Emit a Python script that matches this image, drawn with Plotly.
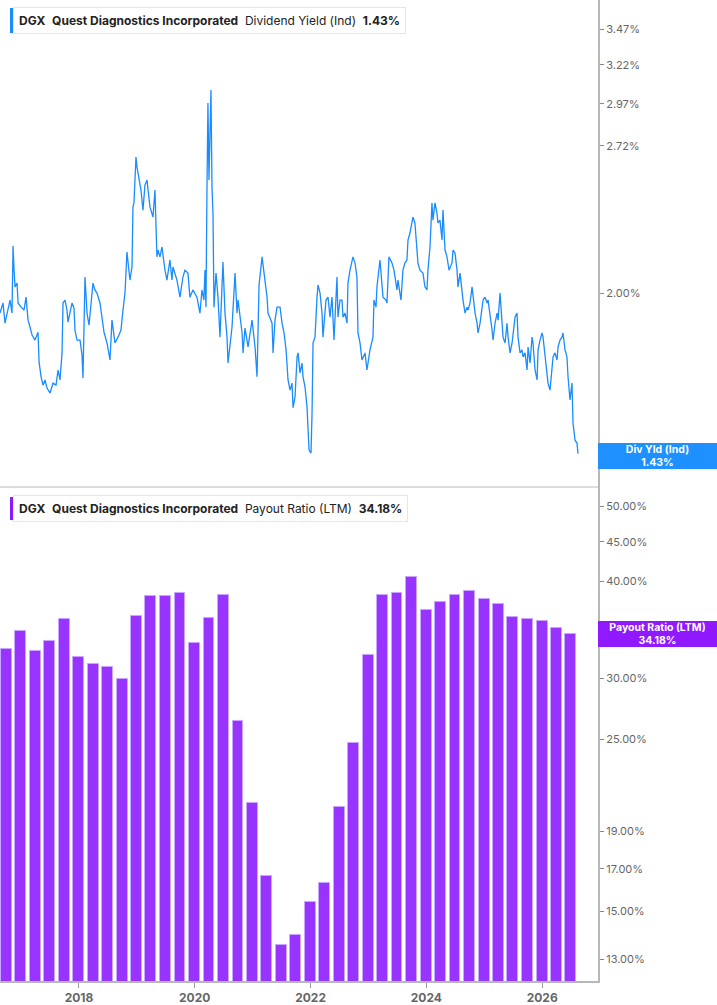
import math
from datetime import datetime
import plotly.graph_objects as go

# ---------------- Data ----------------
# Dividend yield (Ind), % — sampled from the chart; dates as decimal years
yield_t_a = [2016.636, 2016.688, 2016.722, 2016.774, 2016.809, 2016.843, 2016.861, 2016.878, 2016.895, 2016.930,
             2016.947, 2016.999, 2017.050, 2017.085, 2017.120, 2017.154, 2017.189, 2017.240, 2017.275, 2017.292,
             2017.310, 2017.345, 2017.379, 2017.413, 2017.448, 2017.500, 2017.552, 2017.603, 2017.638, 2017.672,
             2017.707, 2017.724, 2017.758, 2017.793, 2017.810, 2017.845, 2017.880, 2017.914, 2017.931, 2017.966,
             2018.018, 2018.052, 2018.069, 2018.104, 2018.139, 2018.173, 2018.207, 2018.242, 2018.276, 2018.311,
             2018.363, 2018.398, 2018.432, 2018.484, 2018.536, 2018.570, 2018.622, 2018.674, 2018.726, 2018.760,
             2018.795, 2018.829, 2018.847, 2018.881, 2018.916, 2018.933, 2018.950, 2018.985, 2019.002, 2019.037,
             2019.071, 2019.106, 2019.140, 2019.175]
yield_v_a = [1.918, 1.959, 1.878, 1.930, 1.971, 1.918, 2.206, 2.098, 2.026, 2.042,
             1.959, 1.942, 1.930, 1.983, 1.890, 1.863, 1.832, 1.813, 1.840, 1.843,
             1.732, 1.679, 1.650, 1.668, 1.640, 1.623, 1.657, 1.650, 1.703, 1.668,
             1.765, 1.959, 1.971, 1.930, 1.882, 1.922, 1.959, 1.938, 1.851, 1.813,
             1.813, 1.758, 1.675, 2.068, 1.918, 1.870, 1.971, 2.042, 2.013, 2.000,
             1.959, 1.902, 1.843, 1.802, 1.739, 1.890, 1.802, 1.824, 1.851, 1.930,
             2.000, 2.179, 2.143, 2.055, 2.112, 2.393, 2.414, 2.657, 2.602, 2.532,
             2.480, 2.378, 2.506, 2.532]

yield_t_b = [2019.227, 2019.279, 2019.313, 2019.347, 2019.365, 2019.399, 2019.434, 2019.486, 2019.520, 2019.572,
             2019.607, 2019.624, 2019.693, 2019.745, 2019.796, 2019.831, 2019.883, 2019.917, 2019.969, 2020.038,
             2020.090, 2020.125, 2020.159, 2020.177, 2020.194, 2020.211, 2020.228, 2020.246, 2020.280, 2020.298,
             2020.315, 2020.332, 2020.367, 2020.401, 2020.436, 2020.470, 2020.487, 2020.522, 2020.557, 2020.574,
             2020.643, 2020.695, 2020.729, 2020.747, 2020.816, 2020.833, 2020.867, 2020.919, 2020.988, 2021.040,
             2021.074, 2021.109, 2021.161, 2021.178, 2021.247, 2021.264, 2021.334, 2021.351, 2021.385, 2021.420,
             2021.472]
yield_v_b = [2.393, 2.344, 2.480, 2.157, 2.188, 2.157, 2.202, 2.098, 2.055, 2.143,
             2.055, 2.112, 2.055, 1.983, 2.068, 2.098, 2.085, 1.983, 2.013, 1.983,
             1.918, 2.013, 1.971, 2.098, 1.942, 2.480, 2.974, 2.532, 3.056, 2.496,
             2.363, 1.942, 2.085, 1.983, 1.824, 2.026, 2.134, 1.918, 1.824, 1.728,
             1.863, 2.085, 1.918, 1.971, 1.840, 1.765, 1.859, 1.787, 1.890, 1.787,
             1.679, 2.034, 2.157, 2.121, 1.983, 1.918, 1.878, 1.765, 1.890, 1.942,
             1.942]

yield_t_c = [2021.506, 2021.541, 2021.576, 2021.610, 2021.645, 2021.679, 2021.697, 2021.731, 2021.766, 2021.783,
             2021.817, 2021.852, 2021.869, 2021.904, 2021.938, 2021.955, 2021.973, 2022.007, 2022.025, 2022.042,
             2022.076, 2022.111, 2022.128, 2022.163, 2022.197, 2022.214, 2022.266, 2022.301, 2022.335, 2022.370,
             2022.387, 2022.404, 2022.456, 2022.473, 2022.508, 2022.542, 2022.560, 2022.594, 2022.629, 2022.646,
             2022.681, 2022.732, 2022.767, 2022.801, 2022.819, 2022.854, 2022.888, 2022.940, 2022.974, 2023.026,
             2023.078, 2023.095, 2023.130, 2023.147, 2023.199, 2023.233, 2023.251, 2023.303, 2023.320, 2023.354,
             2023.406, 2023.441, 2023.493, 2023.510, 2023.562, 2023.596, 2023.631, 2023.665, 2023.683, 2023.717,
             2023.752, 2023.769, 2023.803, 2023.838, 2023.855, 2023.890]
yield_v_c = [1.878, 1.840, 1.776, 1.668, 1.633, 1.657, 1.574, 1.610, 1.750, 1.765,
             1.693, 1.728, 1.679, 1.643, 1.577, 1.503, 1.441, 1.432, 1.557, 1.802,
             1.824, 1.983, 2.034, 2.000, 1.918, 1.824, 1.971, 1.983, 1.902, 1.983,
             1.878, 1.813, 2.068, 1.902, 1.971, 1.971, 1.902, 1.918, 1.878, 2.042,
             2.098, 2.157, 2.130, 2.068, 1.840, 1.802, 1.739, 1.765, 1.703, 1.776,
             1.824, 1.971, 1.942, 2.026, 2.143, 2.026, 1.983, 1.971, 1.959, 2.157,
             2.130, 2.098, 2.013, 2.055, 1.971, 2.098, 2.130, 2.143, 2.234, 2.267,
             2.315, 2.344, 2.315, 2.157, 2.130, 2.098]

yield_t_d = [2023.942, 2023.976, 2024.011, 2024.028, 2024.063, 2024.097, 2024.114, 2024.149, 2024.183, 2024.201,
             2024.235, 2024.270, 2024.287, 2024.322, 2024.356, 2024.391, 2024.443, 2024.460, 2024.494, 2024.529,
             2024.546, 2024.581, 2024.615, 2024.632, 2024.667, 2024.702, 2024.719, 2024.753, 2024.788, 2024.805,
             2024.840, 2024.874, 2024.891, 2024.926, 2024.961, 2024.978, 2025.012, 2025.047, 2025.064, 2025.099,
             2025.133, 2025.150, 2025.185, 2025.220, 2025.237, 2025.271, 2025.306, 2025.323, 2025.358, 2025.392,
             2025.410, 2025.444, 2025.479, 2025.496, 2025.530, 2025.565, 2025.582, 2025.617, 2025.651, 2025.669,
             2025.703, 2025.738, 2025.755, 2025.790, 2025.824, 2025.841, 2025.876, 2025.911, 2025.928, 2025.962,
             2025.997, 2026.014, 2026.049, 2026.083, 2026.100, 2026.135, 2026.170, 2026.187, 2026.221, 2026.256,
             2026.273, 2026.308, 2026.342, 2026.359, 2026.394, 2026.428, 2026.446, 2026.480, 2026.515, 2026.532,
             2026.567, 2026.601, 2026.619]
yield_v_d = [2.085, 2.026, 2.013, 2.098, 2.202, 2.414, 2.329, 2.414, 2.363, 2.315,
             2.329, 2.234, 2.378, 2.188, 2.157, 2.098, 2.130, 2.188, 2.175, 2.098,
             2.026, 2.085, 2.000, 1.971, 1.918, 1.942, 1.930, 1.959, 2.026, 1.983,
             1.918, 1.878, 1.840, 1.878, 1.930, 1.971, 1.983, 1.959, 1.971, 1.918,
             1.851, 1.813, 1.878, 1.918, 1.890, 2.000, 1.902, 1.824, 1.802, 1.878,
             1.824, 1.765, 1.802, 1.840, 1.902, 1.918, 1.824, 1.765, 1.776, 1.750,
             1.765, 1.703, 1.787, 1.728, 1.824, 1.802, 1.703, 1.668, 1.776, 1.813,
             1.840, 1.824, 1.750, 1.693, 1.657, 1.633, 1.714, 1.750, 1.765, 1.739,
             1.787, 1.813, 1.824, 1.840, 1.776, 1.750, 1.679, 1.600, 1.657, 1.525,
             1.471, 1.462, 1.430]

# Payout ratio (LTM), % — quarterly
payout_dates = ["2016-09-30", "2016-12-31", "2017-03-31", "2017-06-30", "2017-09-30", "2017-12-31",
                "2018-03-31", "2018-06-30", "2018-09-30", "2018-12-31", "2019-03-31", "2019-06-30",
                "2019-09-30", "2019-12-31", "2020-03-31", "2020-06-30", "2020-09-30", "2020-12-31",
                "2021-03-31", "2021-06-30", "2021-09-30", "2021-12-31", "2022-03-31", "2022-06-30",
                "2022-09-30", "2022-12-31", "2023-03-31", "2023-06-30", "2023-09-30", "2023-12-31",
                "2024-03-31", "2024-06-30", "2024-09-30", "2024-12-31", "2025-03-31", "2025-06-30",
                "2025-09-30", "2025-12-31", "2026-03-31", "2026-06-30"]
payout_values = [32.70, 34.53, 32.57, 33.49, 35.76, 31.93, 31.27, 31.02, 29.96, 36.11,
                 38.33, 38.33, 38.63, 33.32, 35.90, 38.44, 26.44, 20.67, 16.65, 13.57,
                 13.97, 15.41, 16.29, 20.46, 24.76, 32.18, 38.44, 38.63, 40.52, 36.73,
                 37.64, 38.44, 38.87, 37.98, 37.46, 35.97, 35.76, 35.54, 34.81, 34.18]

x_tick_years = [2018, 2020, 2022, 2024, 2026]
yield_ticks = [2.00, 2.72, 2.97, 3.22, 3.47]
payout_ticks = [13, 15, 17, 19, 25, 30, 40, 45, 50]

yield_t = yield_t_a + yield_t_b + yield_t_c + yield_t_d
yield_v = yield_v_a + yield_v_b + yield_v_c + yield_v_d
assert len(yield_t) == len(yield_v)


def dec_to_dt(t):
    y = int(t)
    a = datetime(y, 1, 1)
    b = datetime(y + 1, 1, 1)
    return a + (b - a) * (t - y)


yield_dt = [dec_to_dt(t) for t in yield_t]

# ---------------- Styling ----------------
FONT = "Inter"
BLUE = "#1a8cff"
PURPLE = "#9933ff"
AXIS = "#b8b8b8"
TICKTXT = "#666666"
SPLIT = 0.5036  # fraction of plot height for bottom panel

fig = go.Figure()
fig.add_trace(go.Scatter(
    x=yield_dt, y=yield_v, xaxis="x", yaxis="y2", mode="lines",
    line=dict(color=BLUE, width=1.3), showlegend=False, hoverinfo="skip"))
fig.add_trace(go.Bar(
    x=payout_dates, y=payout_values, xaxis="x", yaxis="y",
    marker=dict(color=PURPLE, line=dict(color="#c9a6ff", width=1)),
    width=69 * 86400000, showlegend=False, hoverinfo="skip"))

fig.update_layout(
    width=717, height=1005,
    margin=dict(l=0, r=119, t=0, b=24),
    paper_bgcolor="white", plot_bgcolor="white",
    font=dict(family=FONT, color="#222"),
    bargap=0,
    xaxis=dict(
        type="date", anchor="y",
        range=[dec_to_dt(2016.636), dec_to_dt(2026.964)],
        tickvals=[datetime(y, 1, 1) for y in x_tick_years],
        ticktext=[str(y) for y in x_tick_years],
        tickfont=dict(size=12, color=TICKTXT, family=FONT, weight="bold"),
        ticks="outside", ticklen=5, tickcolor="#999", tickwidth=1,
        showline=True, linecolor=AXIS, linewidth=2,
        showgrid=False, zeroline=False, fixedrange=True,
    ),
    yaxis=dict(
        type="log", domain=[0, SPLIT], anchor="x", side="right",
        range=[math.log10(12.18), math.log10(53.0)],
        tickvals=payout_ticks, ticktext=[f"{v:.2f}%" for v in payout_ticks],
        tickfont=dict(size=11, color=TICKTXT, family=FONT),
        ticks="outside", ticklen=4, tickcolor="#888",
        showline=True, linecolor=AXIS, linewidth=2,
        showgrid=False, zeroline=False,
    ),
    yaxis2=dict(
        type="log", domain=[SPLIT, 1], anchor="x", side="right",
        range=[math.log10(1.334), math.log10(3.688)],
        tickvals=yield_ticks, ticktext=[f"{v:.2f}%" for v in yield_ticks],
        tickfont=dict(size=11, color=TICKTXT, family=FONT),
        ticks="outside", ticklen=4, tickcolor="#888",
        showline=True, linecolor=AXIS, linewidth=2,
        showgrid=False, zeroline=False,
    ),
)

PW = 598.0   # plot width px
PH = 981.0   # plot height px


def px_x(p):
    return p / PW


def px_y(p):
    return (PH - p) / PH


shapes = [
    # divider between panels
    dict(type="line", xref="paper", yref="paper", x0=0, x1=1, y0=SPLIT, y1=SPLIT,
         line=dict(color="#dcdcdc", width=2), layer="above"),
    # legend accent bars
    dict(type="rect", xref="paper", yref="paper", x0=px_x(10), x1=px_x(13),
         y0=px_y(33), y1=px_y(8), fillcolor=BLUE, line=dict(width=0), layer="above"),
    dict(type="rect", xref="paper", yref="paper", x0=px_x(10), x1=px_x(13),
         y0=px_y(520), y1=px_y(497), fillcolor="#8a1cff", line=dict(width=0), layer="above"),
]

sp = "&nbsp;&nbsp;"
last_yield = yield_v[-1]
last_payout = payout_values[-1]
annotations = [
    dict(xref="paper", yref="paper", x=px_x(13), y=px_y(20.5), xanchor="left", yanchor="middle",
         text=f"<b>DGX</b>{sp}<b>Quest Diagnostics Incorporated</b>{sp}Dividend Yield (Ind){sp}<b>{last_yield:.2f}%</b>",
         showarrow=False, font=dict(size=12, color="#222", family=FONT),
         bgcolor="white", bordercolor="#e6e6e6", borderwidth=1, borderpad=5, align="left"),
    dict(xref="paper", yref="paper", x=px_x(13), y=px_y(508.5), xanchor="left", yanchor="middle",
         text=f"<b>DGX</b>{sp}<b>Quest Diagnostics Incorporated</b>{sp}Payout Ratio (LTM){sp}<b>{last_payout:.2f}%</b>",
         showarrow=False, font=dict(size=12, color="#222", family=FONT),
         bgcolor="white", bordercolor="#e6e6e6", borderwidth=1, borderpad=5, align="left"),
    dict(xref="paper", yref="y2", x=1, y=math.log10(last_yield), xanchor="left", yanchor="middle",
         yshift=-2,
         text=f"<b>Div Yld (Ind)</b><br><b>{last_yield:.2f}%</b>",
         showarrow=False, font=dict(size=10.5, color="white", family=FONT),
         bgcolor="#1e90ff", borderpad=0, borderwidth=0, width=119, height=26, align="center"),
    dict(xref="paper", yref="y", x=1, y=math.log10(last_payout), xanchor="left", yanchor="middle",
         text=f"<b>Payout Ratio (LTM)</b><br><b>{last_payout:.2f}%</b>",
         showarrow=False, font=dict(size=10.5, color="white", family=FONT),
         bgcolor="#9119ff", borderpad=0, borderwidth=0, width=119, height=26, align="center"),
]

fig.update_layout(shapes=shapes, annotations=annotations)
fig.write_html("out.html", config={"displayModeBar": False},
               post_script="document.body.style.margin='0';document.body.style.padding='0';")
